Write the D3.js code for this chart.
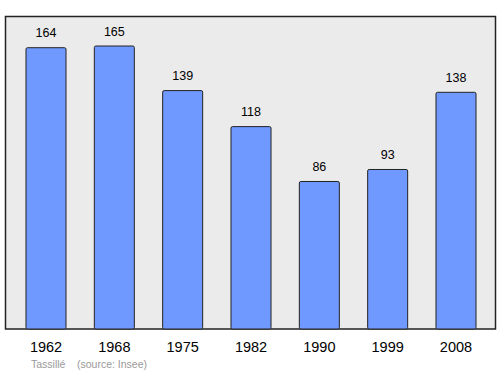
<!DOCTYPE html>
<html><head><meta charset="utf-8">
<script src="https://cdn.jsdelivr.net/npm/d3@7"></script>
<style>body{margin:0;background:#fff}svg{display:block}</style>
</head><body>
<script>
const years = ["1962","1968","1975","1982","1990","1999","2008"];
const population = [164,165,139,118,86,93,138];
const commune = "Tassillé";
const source = "(source: Insee)";

const W=500,H=374;
const FONT="Liberation Sans, Arial, sans-serif";
const svg=d3.select("body").append("svg").attr("width",W).attr("height",H);
const box={l:5.5,t:16.5,r:495.5,b:329};
svg.append("rect").attr("x",box.l).attr("y",box.t).attr("width",box.r-box.l).attr("height",box.b-box.t)
  .attr("fill","#ebebeb").attr("stroke","#222").attr("stroke-width",1.5);

const x=d3.scaleBand().domain(years).range([5.5,496.5]).paddingInner(0.4146).paddingOuter(0.3);
const y=d3.scaleLinear().domain([0,182.2]).range([box.b,box.t]);

svg.selectAll("rect.bar").data(population).enter().append("rect").attr("class","bar")
  .attr("x",(d,i)=>x(years[i])).attr("width",x.bandwidth())
  .attr("y",d=>y(d)).attr("height",d=>box.b-y(d))
  .attr("rx",1.5)
  .attr("fill","#7099ff").attr("stroke","#222").attr("stroke-width",1);

svg.selectAll("text.val").data(population).enter().append("text").attr("class","val")
  .attr("x",(d,i)=>x(years[i])+x.bandwidth()/2).attr("y",d=>y(d)-10.5)
  .attr("text-anchor","middle").attr("font-family",FONT).attr("font-size",12.5)
  .attr("fill","#000").text(d=>d);

const ax=svg.append("g").attr("transform",`translate(0,${box.b})`)
  .call(d3.axisBottom(x).tickSize(0).tickPadding(12.5));
ax.select(".domain").remove();
ax.selectAll("text").attr("font-family",FONT).attr("font-size",14.5).attr("fill","#000");

svg.append("text").attr("x",31).attr("y",368).attr("font-family",FONT)
  .attr("font-size",10.5).attr("fill","#999").text(commune);
svg.append("text").attr("x",77).attr("y",368).attr("font-family",FONT)
  .attr("font-size",10.5).attr("fill","#999").text(source);
</script>
</body></html>
